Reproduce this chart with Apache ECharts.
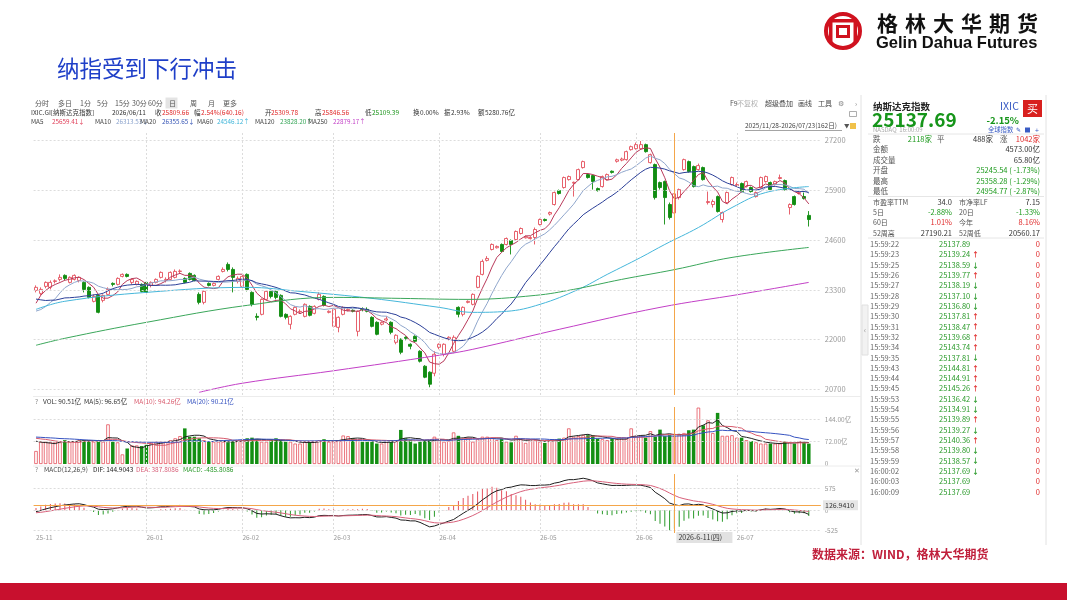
<!DOCTYPE html>
<html><head><meta charset="utf-8">
<script src="https://cdn.jsdelivr.net/npm/echarts@6/dist/echarts.min.js"></script>
<style>html,body{margin:0;padding:0;background:#fff}#c{width:1067px;height:600px}</style>
</head><body><div id="c"></div>
<script>
const FONT = '"Noto Sans CJK SC","Noto Sans",sans-serif';

// ---------------- data ----------------
const holidays = ['2025-12-25','2026-01-01','2026-01-19','2026-02-16','2026-04-03','2026-05-25','2026-06-19','2026-07-03'];
function tradingDays(s, e) {
  const out = []; let d = new Date(s + 'T00:00:00Z'); const end = new Date(e + 'T00:00:00Z');
  while (d <= end) { const wd = d.getUTCDay(); const iso = d.toISOString().slice(0, 10);
    if (wd !== 0 && wd !== 6 && holidays.indexOf(iso) < 0) out.push(iso);
    d = new Date(d.getTime() + 86400000); }
  return out;
}
const dates = tradingDays('2025-11-28', '2026-07-23'); // 162 trading days

// [open, close, low, high]
const ohlc = [
[23285,23364,23233,23416],[23207,23311,23154,23364],[23390,23494,23340,23520],[23364,23494,23311,23546],[23520,23535,23468,23572],
[23572,23625,23520,23703],[23677,23598,23546,23703],[23494,23625,23468,23651],[23572,23677,23546,23703],[23546,23625,23494,23651],
[23494,23311,23233,23520],[23364,23102,23076,23390],[22998,23128,22972,23181],[23154,22711,22685,23181],[23024,23154,22972,23181],
[23181,23311,23154,23364],[23468,23442,23390,23494],[23442,23598,23416,23625],[23651,23703,23625,23729],[23703,23651,23625,23729],
[23494,23572,23442,23598],[23442,23520,23416,23546],[23442,23259,23233,23468],[23494,23233,23181,23520],[23416,23494,23364,23520],
[23494,23572,23468,23598],[23625,23755,23598,23781],[23546,23572,23494,23625],[23572,23755,23546,23781],[23625,23781,23598,23833],
[23781,23790,23729,23833],[23598,23494,23468,23625],[23729,23572,23546,23755],[23677,23546,23520,23703],[23181,22972,22920,23233],
[22972,23259,22920,23285],[23468,23416,23390,23494],[23416,23468,23390,23494],[23572,23651,23546,23677],[23781,23833,23755,23886],
[23964,23833,23781,24016],[23833,23625,23233,23886],[23520,23598,23468,23651],[23390,23651,23340,23703],[23703,23311,23259,23729],
[23233,22920,22867,23259],[22606,22580,22500,22685],[22659,23050,22633,23076],[23050,23259,23024,23285],[23259,23128,23076,23285],
[23259,23102,23050,23285],[23154,22606,22580,23181],[22659,22580,22528,22685],[22398,22606,22267,22633],[22659,22841,22633,22867],
[22720,22737,22685,22789],[22606,22920,22580,22946],[22867,22633,22606,22894],[22685,22867,22659,22894],[23050,23181,23024,23233],
[23128,22894,22867,23154],[22711,22737,22685,22763],[22345,22789,22319,22815],[22319,22580,22189,22606],[22659,22841,22633,22867],
[22763,22789,22737,22815],[22763,22737,22711,22789],[22215,22737,22084,22763],[22800,22789,22737,22841],[22789,22737,22711,22841],
[22580,22345,22319,22606],[22450,22137,22111,22476],[22400,22450,22370,22476],[22510,22540,22476,22606],[22450,22189,22137,22476],
[21928,22111,21876,22137],[22006,21667,21615,22032],[22058,22032,21980,22084],[21876,21824,21745,21900],[22084,21954,21928,22110],
[21693,21432,21400,21720],[21302,21015,20990,21330],[21145,20832,20753,21170],[21119,21615,21040,21693],[21798,21876,21745,21900],
[21615,21876,21560,21900],[22006,22058,21980,22084],[21693,22058,21667,22110],[22841,22659,22580,22867],[22659,22841,22606,22867],
[22972,22998,22946,23024],[22920,23181,22894,23207],[23364,23651,23340,23677],[23703,24042,23677,24094],[24070,24120,24042,24180],
[24355,24486,24330,24512],[24400,24434,24380,24460],[24486,24303,24278,24512],[24486,24642,24460,24668],[24590,24486,24225,24616],
[24616,24825,24590,24851],[24773,24903,24747,24929],[24660,24690,24642,24720],[24640,24668,24616,24700],[24668,24877,24486,24929],
[25008,25138,24982,25164],[25140,25112,25086,25164],[25280,25321,25243,25347],[25530,25843,25504,25869],[25895,25817,25791,25921],
[25974,26235,25947,26261],[26182,26261,26156,26287],[26090,26110,25738,26130],[26182,26443,26156,26470],[26496,26652,26470,26678],
[26313,26235,26208,26340],[26287,26130,25921,26313],[25947,25895,25869,25974],[26000,26261,25974,26287],[26182,26313,26156,26340],
[26400,26370,26340,26420],[26660,26700,26626,26730],[26690,26720,26660,26757],[26704,26913,26678,26939],[26965,27043,26939,27070],
[26991,27096,26965,27150],[26991,27096,26965,27190],[27096,26913,26887,27122],[26626,26835,26600,26861],[26574,25712,25660,26600],
[26104,25974,25921,26130],[26130,25712,25008,26156],[25530,25190,25138,25582],[25309.78,25809.66,25109.39,25846.56],[25712,25921,25660,25947],
[26443,26704,26417,26730],[26652,26391,26365,26678],[26522,26000,25974,26548],[26443,26548,26417,26600],[26496,26182,26156,26522],
[25582,25608,25530,25869],[25530,25608,25451,25660],[25738,25347,25321,25765],[25138,25321,25060,25347],[25582,25843,25556,25869],
[26052,26235,26026,26261],[26026,26052,26000,26104],[26078,25869,25843,26104],[26000,26130,25974,26156],[25974,25869,25843,26000],
[25738,25843,25712,25869],[25974,26235,25947,26261],[26130,26261,26104,26287],[26104,25921,25895,26130],[26052,26130,26026,26156],
[26210,26235,26182,26313],[26156,25921,25895,26182],[25451,25530,25269,25560],[25738,25530,25504,25765],[25817,25843,25791,25869],
[25740,25690,25660,25843],[25245.54,25137.69,24954.77,25358.28]
];

// volume (亿)
const volumes = [42,72,72,70,72,70,77,72,72,77,77,77,72,77,72,128,72,70,31,50,60,60,58,62,70,72,72,72,77,83,
90,115,88,88,83,77,72,72,72,72,70,72,77,77,83,85,80,72,72,80,83,77,72,72,66,66,72,72,72,77,
80,72,72,77,92,90,83,77,72,72,72,66,66,72,77,77,110,83,77,66,72,77,77,88,77,72,75,102,91,82,
85,72,80,88,88,85,77,82,72,70,91,80,68,80,77,72,68,77,80,82,85,115,88,90,93,93,93,82,80,77,
82,80,82,82,115,91,91,85,106,88,111,90,93,90.51,95,100,109,111,182,125,141,100,165,91,91,93,85,85,77,74,
70,66,66,66,66,66,72,70,66,74,70,65.8];

// closes / volumes before the window, used only to seed the moving averages and MACD
const preCloses = [22755,22844,22780,22941,22789,23043,23024,22204,22695,22521,22670,22562,22680,22991,22953,22740,22942,23205,23637,23827,23958,23581,23725,23834,23348,23499,23054,23005,23528,23468,23406,22871,22901,22708,22432,22564,22078,22273,22872,23026,23215];
const preVolumes = [88,92,85,90,95,88,84,90,96,100,92,88,94,98,90,86,80,78,82];

// long moving averages: [bar index, value]
const ma60Samples = [[0,22789],[6,23000],[23,23233],[44,23364],[55,23259],[70,23076],[84,22841],[91,22711],[98,22737],[105,22920],[113,23311],[119,23703],[126,24147],[131,24486],[138,24929],[145,25451],[152,25843],[161,26000]];
const ma120Samples = [[0,21850],[6,22032],[23,22450],[44,22894],[62,23102],[76,23076],[90,23050],[104,23154],[112,23311],[122,23572],[133,23828],[145,24147],[161,24408]];
const ma250Samples = [[34,20620],[43,20858],[62,21184],[84,21590],[91,21745],[109,22267],[130,22841],[147,23190],[161,23494]];

const priceTicks = [20700, 22000, 23300, 24600, 25900, 27200];
const volTicks = [0, 72, 144];
const macdTicks = [-525, 0, 575];
const crossDate = '2026-06-11';
const crossMacd = 126.9410;

const tickTimes = ['15:59:22','15:59:23','15:59:25','15:59:26','15:59:27','15:59:28','15:59:29','15:59:30','15:59:31','15:59:32','15:59:34','15:59:35','15:59:43','15:59:44','15:59:45','15:59:53','15:59:54','15:59:55','15:59:56','15:59:57','15:59:58','15:59:59','16:00:02','16:00:03','16:00:09'];
const tickPrices = ['25137.89','25139.24','25138.59','25139.77','25138.19','25137.10','25136.80','25137.81','25138.47','25139.68','25143.74','25137.81','25144.81','25144.91','25145.26','25136.42','25134.91','25139.89','25139.27','25140.36','25139.80','25138.57','25137.69','25137.69','25137.69'];
const tickDirs = [0,1,-1,1,-1,-1,-1,1,1,1,1,-1,1,1,1,-1,-1,1,-1,1,-1,-1,-1,0,0];

// ---------------- derived ----------------
const N = dates.length;
const cats = dates.concat([' ', '  ']);
const closes = ohlc.map(d => d[1]);
const allC = preCloses.concat(closes);
const P = preCloses.length;
function maC(n) { return closes.map((_, i) => { const j = i + P; if (j + 1 < n) return null; let s = 0; for (let k = j - n + 1; k <= j; k++) s += allC[k]; return +(s / n).toFixed(2); }); }
const allV = preVolumes.concat(volumes), PV = preVolumes.length;
function maV(n) { return volumes.map((_, i) => { const j = i + PV; const a = Math.max(0, j - n + 1); let s = 0; for (let k = a; k <= j; k++) s += allV[k]; return +(s / (j - a + 1)).toFixed(2); }); }
let e12 = allC[0], e26 = allC[0], dea = 0; const difA = [], deaA = [], histA = [];
allC.forEach((c, j) => { e12 = (2 * c + 11 * e12) / 13; e26 = (2 * c + 25 * e26) / 27; const dif = e12 - e26; dea = (2 * dif + 8 * dea) / 10;
  if (j >= P) { difA.push(+dif.toFixed(2)); deaA.push(+dea.toFixed(2)); histA.push(+(2 * (dif - dea)).toFixed(2)); } });
// month boundaries: the first bar is labelled with its own month; the next month start right after it is skipped
const monthStart = dates.map((d, i) => i === 0 || (i > 1 && d.slice(0, 7) !== dates[i - 1].slice(0, 7)));
const monthIdx = []; monthStart.forEach((m, i) => { if (m && i > 0) monthIdx.push(i); });
const crossIdx = dates.indexOf(crossDate);

const RED = '#e4505c', GREEN = '#118c11';
const dotted = { color: '#dcdcdc', type: [2, 2], width: 1 };
const orange = { color: '#f4a64a', type: 'solid', width: 1 };
function gridLines(yVals, withCross) {
  const d = monthIdx.map(i => ({ xAxis: i, lineStyle: dotted }));
  yVals.forEach(v => d.push({ yAxis: v, lineStyle: dotted }));
  if (withCross) d.push({ xAxis: crossIdx, lineStyle: orange });
  return { silent: true, symbol: 'none', label: { show: false }, animation: false, data: d };
}
function xAx(gi, show) {
  return { type: 'category', gridIndex: gi, data: cats, boundaryGap: true,
    axisLine: { show: false }, axisTick: { show: false }, splitLine: { show: false },
    axisLabel: show ? { show: true, interval: (i) => monthStart[i] === true, formatter: v => v.trim() ? v.slice(2, 7) : '',
      color: '#9a9a9a', fontSize: 6.5, fontFamily: FONT, align: 'left', margin: 1 } : { show: false } };
}
const L = 33.6, W = 787.2;
const lineS = (name, data, color, gx, extra) => Object.assign({ name, type: 'line', xAxisIndex: gx, yAxisIndex: gx, data, symbol: 'none',
  lineStyle: { width: 1, color }, itemStyle: { color }, silent: true, animation: false, z: 3 }, extra || {});

const option = {
  animation: false,
  textStyle: { fontFamily: FONT },
  grid: [
    { left: L, width: W, top: 133, height: 262 },
    { left: L, width: W, top: 407, height: 57 },
    { left: L, width: W, top: 474, height: 59 }
  ],
  xAxis: [xAx(0, false), xAx(1, false), xAx(2, true)],
  yAxis: [
    { type: 'value', gridIndex: 0, position: 'right', min: 20550, max: 27400, interval: 50, splitLine: { show: false },
      axisLine: { show: false }, axisTick: { show: false },
      axisLabel: { formatter: v => priceTicks.indexOf(v) >= 0 ? String(v) : '', color: '#9a9a9a', fontSize: 7.5, margin: 4, fontFamily: FONT } },
    { type: 'value', gridIndex: 1, position: 'right', min: 0, max: 184, interval: 72, splitLine: { show: false },
      axisLine: { show: false }, axisTick: { show: false },
      axisLabel: { formatter: v => v === 0 ? '0' : (volTicks.indexOf(v) >= 0 ? v.toFixed(2) + '亿' : ''), color: '#9a9a9a', fontSize: 6.5, margin: 4, fontFamily: FONT } },
    { type: 'value', gridIndex: 2, position: 'right', min: -600, max: 950, interval: 25, splitLine: { show: false },
      axisLine: { show: false }, axisTick: { show: false },
      axisLabel: { formatter: v => macdTicks.indexOf(v) >= 0 ? String(v) : '', color: '#9a9a9a', fontSize: 6.5, margin: 4, fontFamily: FONT } }
  ],
  series: [
    { name: 'K', type: 'candlestick', xAxisIndex: 0, yAxisIndex: 0, data: ohlc, barWidth: 3.5, silent: true, animation: false,
      itemStyle: { color: '#ffffff', color0: GREEN, borderColor: RED, borderColor0: GREEN, borderWidth: 0.9 },
      markLine: gridLines(priceTicks, true) },
    lineS('MA5', maC(5), '#b8395a', 0),
    lineS('MA10', maC(10), '#8fa6cc', 0),
    lineS('MA20', maC(20), '#2b3f98', 0),
    lineS('MA60', ma60Samples, '#45b6da', 0, { smooth: 0.4 }),
    lineS('MA120', ma120Samples, '#3aa65a', 0, { smooth: 0.4 }),
    lineS('MA250', ma250Samples, '#c23fc6', 0, { smooth: 0.4 }),
    { name: 'VOL', type: 'bar', xAxisIndex: 1, yAxisIndex: 1, barWidth: 3.5, silent: true, animation: false,
      data: volumes.map((v, i) => { const up = ohlc[i][1] >= ohlc[i][0];
        return { value: v, itemStyle: up ? { color: '#ffffff', borderColor: RED, borderWidth: 0.8 } : { color: '#138f13' } }; }),
      markLine: gridLines([72, 144], true) },
    lineS('VMA5', maV(5), '#222222', 1),
    lineS('VMA10', maV(10), '#d85a6c', 1),
    lineS('VMA20', maV(20), '#3552c0', 1),
    { name: 'MACD', type: 'bar', xAxisIndex: 2, yAxisIndex: 2, barWidth: 1, silent: true, animation: false,
      data: histA.map(v => ({ value: v, itemStyle: { color: v >= 0 ? RED : '#2a9a2a' } })),
      markLine: (() => { const m = gridLines(macdTicks, true); m.data.push({ yAxis: crossMacd, lineStyle: orange }); return m; })() },
    lineS('DIF', difA, '#1e1e1e', 2),
    lineS('DEA', deaA, '#d8607a', 2)
  ]
};

const chart = echarts.init(document.getElementById('c'), null, { renderer: 'canvas' });
chart.setOption(option);

// ---------------- text & decorations ----------------
function txt(x, y, text, o) {
  o = o || {}; const al = o.align || 'left';
  return { type: 'text', x: x, y: y, silent: true, z: 100,
    style: { text: String(text), fill: o.color || '#333', font: (o.bold ? 'bold ' : '') + (o.size || 7.5) + 'px ' + (o.font || FONT),
      align: al, verticalAlign: 'middle', textAlign: al, textVerticalAlign: 'middle' } };
}
function rect(x, y, w, h, fill, stroke, lw) { return { type: 'rect', silent: true, z: 90, shape: { x, y, width: w, height: h }, style: { fill: fill || 'transparent', stroke: stroke || null, lineWidth: lw || 1 } }; }
function line(x1, y1, x2, y2, stroke, lw) { return { type: 'line', silent: true, z: 90, shape: { x1, y1, x2, y2 }, style: { stroke, lineWidth: lw || 1 } }; }

const G = [];
// page title + logo
G.push(txt(57, 68, '纳指受到下行冲击', { size: 22.5, color: '#1f3fc8' }));
G.push({ type: 'circle', silent: true, z: 90, shape: { cx: 843, cy: 31, r: 17 }, style: { fill: 'transparent', stroke: '#d0121f', lineWidth: 4 } });
G.push(rect(829, 19, 28, 3.5, '#d0121f'));
G.push(rect(829, 22, 3.5, 20, '#d0121f'));
G.push(rect(853.5, 22, 3.5, 20, '#d0121f'));
G.push(rect(837.5, 26.5, 11, 10, 'transparent', '#d0121f', 3));
['格', '林', '大', '华', '期', '货'].forEach((ch, k) => G.push(txt(877 + k * 28, 23.5, ch, { size: 21, bold: true, color: '#111' })));
G.push(txt(876, 43.5, 'Gelin Dahua Futures', { size: 16.5, bold: true, color: '#111', font: '"Liberation Sans",Arial,sans-serif' }));
// footer
G.push(txt(812, 554, '数据来源：WIND，格林大华期货', { size: 12, bold: true, color: '#c0203c' }));
G.push(rect(0, 583, 1067, 17, '#c8102e'));

// software frame
G.push(line(861, 95, 861, 545, '#e2e2e2'));
G.push(line(1046, 95, 1046, 545, '#e2e2e2'));
G.push(line(33, 396.5, 861, 396.5, '#ececec'));
G.push(line(33, 466, 861, 466, '#ececec'));
G.push(rect(862, 305, 6, 50, '#f2f2f2', '#e0e0e0'));
G.push(txt(865, 330, '‹', { size: 8, color: '#999', align: 'center' }));

// header row 1
[['分时', 35], ['多日', 58], ['1分', 80], ['5分', 97], ['15分', 115], ['30分', 132], ['60分', 148], ['日', 169], ['周', 190], ['月', 208], ['更多', 223]]
  .forEach(([t, x]) => G.push(txt(x, 103, t, { size: 7, color: '#555' })));
G.push(rect(165.5, 97.5, 12, 11, '#e4e4e4'));
[['F9', 730, '#555'], ['不复权', 737, '#b0b0b0'], ['超级叠加', 765, '#444'], ['画线', 798, '#444'], ['工具', 818, '#444'], ['⚙', 838, '#888'], ['›', 855, '#888']]
  .forEach(([t, x, c]) => G.push(txt(x, 103, t, { size: 7, color: c })));
G.push(txt(745, 126, '2025/11/28-2026/07/23(162日)', { size: 6.5, color: '#444' }));
G.push(line(745, 130.5, 842, 130.5, '#666', 0.6));
G.push(txt(844, 126, '▼', { size: 5.5, color: '#555' }));
G.push(rect(850, 123, 6, 6, '#f0c14a'));
G.push(rect(849.5, 111.5, 7, 5, 'transparent', '#999', 0.8));

// header row 2
[['IXIC.GI[纳斯达克指数]', 31, '#333'], ['2026/06/11', 112, '#333'], ['收', 155, '#333'], ['25809.66', 162, '#e02a2a'],
 ['幅', 194, '#333'], ['2.54%(640.16)', 201, '#e02a2a'], ['开', 265, '#333'], ['25309.78', 271, '#e02a2a'],
 ['高', 315, '#333'], ['25846.56', 322, '#e02a2a'], ['低', 365, '#333'], ['25109.39', 372, '#1d951d'],
 ['换', 413, '#333'], ['0.00%', 420, '#333'], ['振', 444, '#333'], ['2.93%', 451, '#333'], ['额', 478, '#333'], ['5280.76亿', 485, '#333']]
  .forEach(([t, x, c]) => G.push(txt(x, 113, t, { size: 6.5, color: c })));
// header row 3
[['MA5', 31, 52, '25659.41↓', '#e0405a'], ['MA10', 95, 116, '26313.53↓', '#8aa2cc'], ['MA20', 140, 162, '26355.65↓', '#3252b4'],
 ['MA60', 197, 217, '24546.12↑', '#3cb4d8'], ['MA120', 255, 280, '23828.20↑', '#34a556'], ['MA250', 308, 333, '22879.17↑', '#c23fc6']]
  .forEach(([n, x, xv, v, c]) => { G.push(txt(x, 122, n, { size: 6.3, color: '#444' })); G.push(txt(xv, 122, v, { size: 6.3, color: c })); });

// volume / macd headers
G.push(txt(35, 401.5, '?', { size: 6.5, color: '#888' }));
G.push(txt(43, 401.5, 'VOL: 90.51亿  MA(5): 96.65亿', { size: 6.5, color: '#333' }));
G.push(txt(134, 401.5, 'MA(10): 94.26亿', { size: 6.5, color: '#d85a6c' }));
G.push(txt(187, 401.5, 'MA(20): 90.21亿', { size: 6.5, color: '#3552c0' }));
G.push(txt(35, 469.5, '?', { size: 6.5, color: '#888' }));
G.push(txt(44, 469.5, 'MACD(12,26,9)', { size: 6.5, color: '#444' }));
G.push(txt(93, 469.5, 'DIF: 144.9043', { size: 6.5, color: '#222' }));
G.push(txt(136, 469.5, 'DEA: 387.8086', { size: 6.5, color: '#d8607a' }));
G.push(txt(183, 469.5, 'MACD: -485.8086', { size: 6.5, color: '#2a9a2a' }));
G.push(txt(857, 470, '✕', { size: 7, color: '#999', align: 'center' }));

// crosshair labels (positions from the axes)
const cx = chart.convertToPixel({ xAxisIndex: 2 }, crossIdx);
const cy = chart.convertToPixel({ yAxisIndex: 2 }, crossMacd);
G.push(rect(cx + 2, 532, 56, 11, '#e2e2e2'));
G.push(txt(cx + 4, 537.5, '2026-6-11(四)', { size: 7, color: '#333' }));
G.push(rect(823, cy - 5, 35, 10, '#e6e6e6'));
G.push(txt(825, cy, crossMacd.toFixed(4), { size: 7, color: '#333' }));

// right quote panel
const RL = 873, RR = 1040, RM = 952, RM2 = 959, GR = '#1e9a1e', RD = '#e02a2a';
G.push(txt(RL, 106, '纳斯达克指数', { size: 9.5, bold: true, color: '#222' }));
G.push(txt(1000, 106, 'IXIC', { size: 10.5, color: '#3a5cc4' }));
G.push(rect(1023, 100, 19, 17, '#d8201e'));
G.push(txt(1032.5, 108.5, '买', { size: 11, color: '#fff', align: 'center' }));
G.push(txt(RL - 1, 119.5, '25137.69', { size: 19, bold: true, color: '#16951a' }));
G.push(txt(RR - 21, 120, '-2.15%', { size: 9.5, bold: true, color: '#16951a', align: 'right' }));
G.push(txt(RL, 130, 'NASDAQ  16:00:09', { size: 6, color: '#aaa' }));
G.push(txt(988, 130, '全球指数', { size: 6.3, color: '#3a5cc4' }));
G.push(txt(1016, 130, '✎', { size: 6, color: '#3a5cc4' }));
G.push(rect(1025, 127.5, 5, 5, '#3a5cc4'));
G.push(txt(1035, 130, '+', { size: 7, color: '#3a5cc4' }));
G.push(line(868, 134, RR + 4, 134, '#e6e6e6'));
G.push(line(868, 196.5, RR + 4, 196.5, '#e6e6e6'));
G.push(line(868, 238, RR + 4, 238, '#e6e6e6'));
// advance / decline
G.push(txt(RL, 139, '跌', { color: '#555' })); G.push(txt(932, 139, '2118家', { color: GR, align: 'right' }));
G.push(txt(937, 139, '平', { color: '#555' })); G.push(txt(993, 139, '488家', { color: '#333', align: 'right' }));
G.push(txt(1000, 139, '涨', { color: '#555' })); G.push(txt(RR, 139, '1042家', { color: RD, align: 'right' }));
[['金额', '4573.00亿', '#333', 149.5], ['成交量', '65.80亿', '#333', 160], ['开盘', '25245.54 ( -1.73%)', GR, 170.5],
 ['最高', '25358.28 ( -1.29%)', GR, 181], ['最低', '24954.77 ( -2.87%)', GR, 191.5]]
  .forEach(([a, b, c, y]) => { G.push(txt(RL, y, a, { color: '#555' })); G.push(txt(RR, y, b, { color: c, align: 'right' })); });
[['市盈率TTM', '34.0', '#333', '市净率LF', '7.15', '#333', 202], ['5日', '-2.88%', GR, '20日', '-1.33%', GR, 212.5],
 ['60日', '1.01%', RD, '今年', '8.16%', RD, 222.5], ['52周高', '27190.21', '#333', '52周低', '20560.17', '#333', 233]]
  .forEach(([a, b, c, d, e, f, y]) => { G.push(txt(RL, y, a, { color: '#555', size: 7 })); G.push(txt(RM, y, b, { color: c, align: 'right' }));
    G.push(txt(RM2, y, d, { color: '#555', size: 7 })); G.push(txt(RR, y, e, { color: f, align: 'right' })); });
// tick list
tickTimes.forEach((t, k) => { const y = 244.3 + k * 10.31;
  G.push(txt(870, y, t, { color: '#666' }));
  G.push(txt(939, y, tickPrices[k], { color: '#2a9a2a' }));
  if (tickDirs[k] !== 0) G.push(txt(972, y, tickDirs[k] > 0 ? '↑' : '↓', { size: 7, bold: true, color: tickDirs[k] > 0 ? RD : '#2a9a2a' }));
  G.push(txt(RR, y, '0', { color: RD, align: 'right' }));
});

chart.setOption({ graphic: { elements: G } });
</script></body></html>
